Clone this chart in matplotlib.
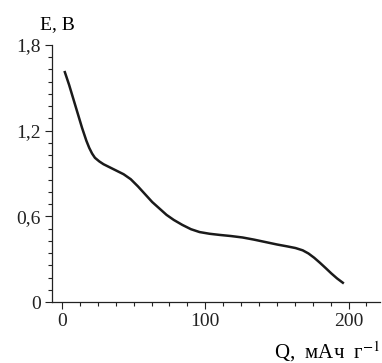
import matplotlib.pyplot as plt
import numpy as np
from matplotlib.ticker import FixedLocator

plt.rcParams["font.family"] = ["Liberation Serif", "DejaVu Serif"]
plt.rcParams["mathtext.fontset"] = "stix"

# discharge curve
q = [2, 5, 8, 11, 14, 17, 19, 21, 23, 26, 29, 33, 38, 43, 48, 53, 58, 63,
     68, 73, 78, 84, 90, 96, 103, 110, 118, 126, 134, 142, 150, 157, 163,
     168, 172, 176, 180, 184, 188, 192, 196]
e = [1.61, 1.52, 1.42, 1.32, 1.22, 1.13, 1.08, 1.04, 1.01, 0.985, 0.965,
     0.945, 0.92, 0.895, 0.86, 0.81, 0.755, 0.70, 0.655, 0.61, 0.575, 0.54,
     0.51, 0.49, 0.478, 0.47, 0.462, 0.452, 0.437, 0.42, 0.403, 0.39, 0.378,
     0.362, 0.34, 0.31, 0.275, 0.238, 0.2, 0.165, 0.135]

y_ticks = [0, 0.6, 1.2, 1.8]
y_labels = ["0", "0,6", "1,2", "1,8"]
x_ticks = [0, 100, 200]
x_labels = ["0", "100", "200"]

fig = plt.figure(figsize=(3.82, 3.63), dpi=100)
ax = fig.add_axes([0.136, 0.168, 0.859, 0.708])

ax.plot(q, e, color="#1a1a1a", linewidth=1.8, solid_joinstyle="round")

ax.set_xlim(-7, 222)
ax.set_ylim(0, 1.8)
ax.set_xticks(x_ticks)
ax.set_xticklabels(x_labels)
ax.set_yticks(y_ticks)
ax.set_yticklabels(y_labels)
ax.xaxis.set_minor_locator(FixedLocator(np.arange(0, 222, 12.5)))
ax.yaxis.set_minor_locator(FixedLocator(np.arange(0, 1.81, 0.6 / 7)))

ax.tick_params(axis="both", which="major", length=5, width=0.8,
               labelsize=14, pad=3, colors="#222222")
ax.tick_params(axis="both", which="minor", length=3, width=0.8, colors="#222222")

ax.spines["top"].set_visible(False)
ax.spines["right"].set_visible(False)
for s in ("left", "bottom"):
    ax.spines[s].set_linewidth(0.9)
    ax.spines[s].set_color("#222222")

fig.text(40 / 382, 1 - 25 / 363, "E, В", fontsize=14, va="center", ha="left")
fig.text(381 / 382, 1 - 352 / 363, "Q,  мАч  г$^{-1}$", fontsize=15,
         va="center", ha="right")

fig.savefig("out.png", dpi=100)
